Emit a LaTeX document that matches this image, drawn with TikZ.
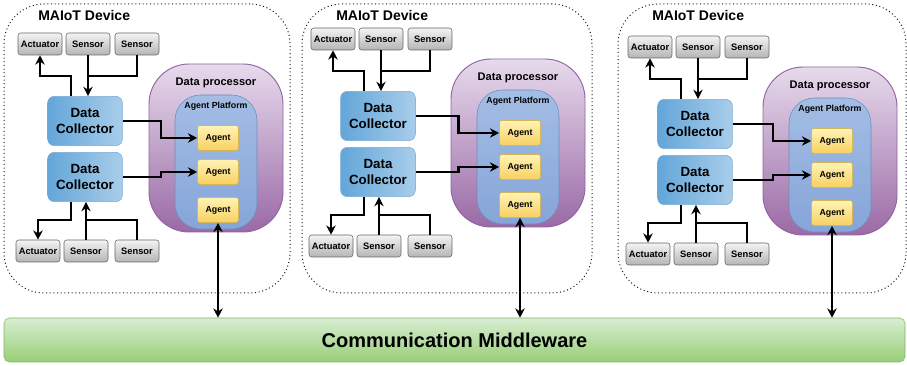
\documentclass[tikz,border=0pt]{standalone}
\usepackage{fontspec}
\setmainfont{Liberation Sans}
\usetikzlibrary{arrows.meta,positioning}

\definecolor{hwtop}{HTML}{F4F4F4}
\definecolor{hwbot}{HTML}{B4B4B4}
\definecolor{hwline}{HTML}{666666}
\definecolor{dcleft}{HTML}{63A6D9}
\definecolor{dcright}{HTML}{A9CDEA}
\definecolor{dcline}{HTML}{7AAAD6}
\definecolor{dptop}{HTML}{E7DAEC}
\definecolor{dpbot}{HTML}{9A6AA6}
\definecolor{dpline}{HTML}{9064A0}
\definecolor{aptop}{HTML}{A3BDE4}
\definecolor{apbot}{HTML}{86A5D8}
\definecolor{apline}{HTML}{6C8EBF}
\definecolor{agtop}{HTML}{FFF3B4}
\definecolor{agbot}{HTML}{F7D162}
\definecolor{agline}{HTML}{D6B656}
\definecolor{mwtop}{HTML}{D8EDD2}
\definecolor{mwbot}{HTML}{97CF76}
\definecolor{mwline}{HTML}{82B366}

\tikzset{%
   devbox/.style={draw=black!90, dotted, line width=0.75pt, rounded corners=30pt,
      minimum height=216.75pt},
   devtitle/.style={font=\bfseries\fontsize{10.5}{12}\selectfont, inner sep=0pt},
   hwbox/.style={draw=hwline, rounded corners=2pt, top color=hwtop, bottom color=hwbot,
      minimum width=33pt, minimum height=16.5pt, inner sep=1pt,
      font=\bfseries\fontsize{7}{8}\selectfont},
   collector/.style={draw=dcline, rounded corners=5pt, left color=dcleft, right color=dcright,
      minimum width=56pt, minimum height=37pt, align=center, inner sep=1pt,
      font=\bfseries\fontsize{10}{11.5}\selectfont},
   processor/.style={draw=dpline, line width=0.7pt, rounded corners=30pt,
      top color=dptop, bottom color=dpbot, minimum width=100.5pt, minimum height=126pt},
   platform/.style={draw=apline, rounded corners=19pt, top color=aptop, bottom color=apbot,
      minimum width=61.5pt, minimum height=100.5pt},
   agent/.style={draw=agline, rounded corners=2pt, top color=agtop, bottom color=agbot,
      minimum width=30.75pt, minimum height=18.75pt, inner sep=1pt,
      font=\bfseries\fontsize{6.6}{8}\selectfont},
   dplabel/.style={font=\bfseries\fontsize{8.3}{10}\selectfont, inner sep=0pt},
   aplabel/.style={font=\bfseries\fontsize{6.6}{8}\selectfont, inner sep=0pt},
   middleware/.style={draw=mwline, rounded corners=4pt, top color=mwtop, bottom color=mwbot,
      minimum width=675.75pt, minimum height=33pt, font=\bfseries\fontsize{15}{18}\selectfont},
   wire/.style={line width=1.6pt},
   flow/.style={wire, -{Stealth[length=7pt,width=7pt]}},
   link/.style={wire, {Stealth[length=7pt,width=7pt]}-{Stealth[length=7pt,width=7pt]}},
}

\begin{document}
\begin{tikzpicture}[x=0.75pt, y=-0.75pt]
   \useasboundingbox (0,0) rectangle (907,366);

   \node[middleware] (mw) at (454.5,340) {Communication Middleware};

   % one MAIoT device per column: index / shift x / shift y / processor shift / frame left / frame width
   \foreach \i/\dx/\dy/\ex/\fx/\fw in {1/0/0/0/4/286, 2/293/-5/9/302/290, 3/610/3/4/618/288}{
      \node[devbox, minimum width=\fw*0.75pt] (dev\i) at (\fx+\fw/2,148.5) {};
      \node[devtitle, anchor=west] (devt\i) at (\fx+34,16) {MAIoT Device};

      % data processor with its agents
      \node[processor] (dp\i) at (216+\dx+\ex,148+\dy) {};
      \node[dplabel] (dpt\i) at ([yshift=-14.25pt]dp\i.north) {Data processor};
      \node[platform] (ap\i) at (216+\dx+\ex,162+\dy) {};
      \node[aplabel] (apt\i) at ([yshift=-9pt]ap\i.north) {Agent Platform};
      \node[agent] (aga\i) at (218+\dx+\ex,138+\dy) {Agent};
      \node[agent] (agb\i) at (218+\dx+\ex,172+\dy) {Agent};
      \node[agent] (agc\i) at (218+\dx+\ex,210+\dy) {Agent};

      % collectors
      \node[collector] (dca\i) at (85+\dx,121+\dy) {Data\\Collector};
      \node[collector] (dcb\i) at (85+\dx,177+\dy) {Data\\Collector};

      % sensors and actuators
      \node[hwbox] (actt\i) at (40+\dx,44+\dy) {Actuator};
      \node[hwbox] (sena\i) at (88+\dx,44+\dy) {Sensor};
      \node[hwbox] (senb\i) at (137+\dx,44+\dy) {Sensor};
      \node[hwbox] (actb\i) at (38+\dx,251+\dy) {Actuator};
      \node[hwbox] (senc\i) at (86+\dx,251+\dy) {Sensor};
      \node[hwbox] (send\i) at (137+\dx,251+\dy) {Sensor};

      \coordinate (jt\i) at (71+\dx,76+\dy);
      \coordinate (jb\i) at (71+\dx,220+\dy);
      \coordinate (jx\i) at (161+\dx+\ex/2,0);

      \draw[flow] (dca\i.north -| jt\i) -- (jt\i) -| (actt\i.south);
      \draw[flow] (sena\i.south) -- (sena\i.south |- dca\i.north);
      \draw[wire] (senb\i.south) |- (sena\i.south |- jt\i);
      \draw[flow] (dcb\i.south -| jb\i) -- (jb\i) -| (actb\i.north);
      \draw[flow] (senc\i.north) -- (senc\i.north |- dcb\i.south);
      \draw[wire] (send\i.north) |- (senc\i.north |- jb\i);
      \draw[flow] (dca\i.east) -- (dca\i.east -| jx\i) |- (aga\i.west);
      \draw[flow] (dcb\i.east) -- (dcb\i.east -| jx\i) |- (agb\i.west);
      \draw[link] (agc\i.south) -- (agc\i.south |- mw.north);
   }
\end{tikzpicture}
\end{document}
